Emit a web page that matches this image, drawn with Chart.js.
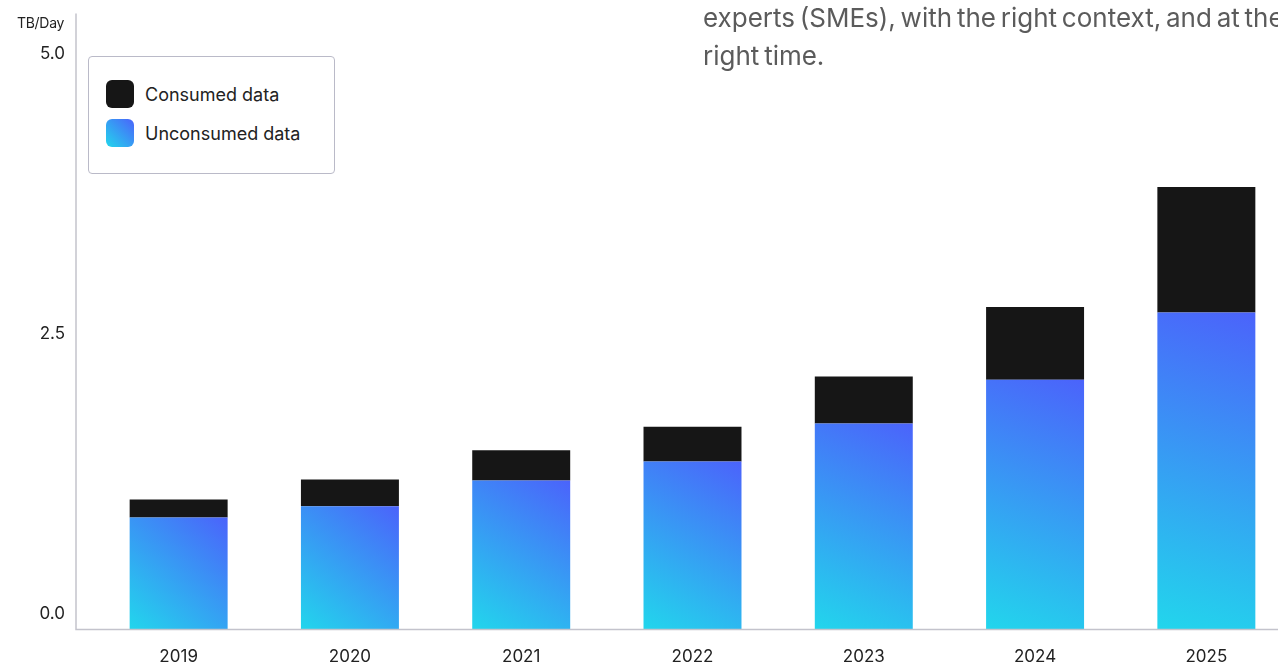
<!DOCTYPE html>
<html>
<head>
<meta charset="utf-8">
<script src="https://cdn.jsdelivr.net/npm/chart.js@4/dist/chart.umd.min.js"></script>
<style>
  html, body { margin: 0; padding: 0; background: #fff; overflow: hidden; }
  body { width: 1278px; height: 666px; position: relative; font-family: Inter, "Noto Sans", sans-serif; }
  #wrap { position: absolute; left: 0; top: 0; width: 1300px; height: 666px; }
  #unit { position: absolute; left: 17px; top: 14px; font-size: 14px; color: #222; letter-spacing: -0.3px; }
  #blurb { position: absolute; left: 703px; top: -1px; font-size: 26px; line-height: 38px; color: #5b5b5b; white-space: nowrap; letter-spacing: 0; word-spacing: -2.5px; }
  #legend { position: absolute; left: 88px; top: 56px; width: 245px; height: 116px; border: 1px solid #babac8; border-radius: 4px; background: #fff; }
  .item { position: absolute; left: 17px; display: flex; align-items: center; font-size: 18px; color: #222; }
  .swatch { width: 28px; height: 28px; border-radius: 6px; margin-right: 11px; }
</style>
</head>
<body>
<div id="wrap"><canvas id="chart"></canvas></div>
<div id="unit">TB/Day</div>
<div id="blurb">experts (SMEs), with the right context, and at the<br>right time.</div>
<div id="legend"></div>
<script>
const years = ["2019", "2020", "2021", "2022", "2023", "2024", "2025"];
const unconsumed = [1.0, 1.1, 1.33, 1.5, 1.84, 2.23, 2.83];
const consumed = [0.16, 0.24, 0.27, 0.31, 0.42, 0.65, 1.12];
const yTicks = [0, 2.5, 5];

const barPct = 0.572;
const gradFrom = "#22d6ec";
const gradTo = "#4b63fb";

// per-bar diagonal gradient, bottom-left cyan to top-right blue
function barGradient(ctx) {
  const chart = ctx.chart;
  if (!chart.chartArea || ctx.type !== "data") return "#3b9af0";
  const xs = chart.scales.x;
  const ys = chart.scales.y;
  const cx = xs.getPixelForValue(ctx.dataIndex);
  const half = (xs.getPixelForTick(1) - xs.getPixelForTick(0)) * barPct / 2;
  const bottom = ys.getPixelForValue(0);
  const top = ys.getPixelForValue(unconsumed[ctx.dataIndex]);
  const g = chart.ctx.createLinearGradient(cx - half, bottom, cx + half, top);
  g.addColorStop(0, gradFrom);
  g.addColorStop(1, gradTo);
  return g;
}

// axis lines sit a little left of the plot area
const axisLines = {
  id: "axisLines",
  afterDraw(chart) {
    const { ctx, chartArea } = chart;
    const x0 = chartArea.left - 17;
    ctx.save();
    ctx.strokeStyle = "#c3c3cc";
    ctx.lineWidth = 1.5;
    ctx.beginPath();
    ctx.moveTo(x0, chartArea.top);
    ctx.lineTo(x0, chartArea.bottom);
    ctx.lineTo(chart.width, chartArea.bottom);
    ctx.stroke();
    ctx.restore();
  },
};

const chart = new Chart(document.getElementById("chart"), {
  type: "bar",
  data: {
    labels: years,
    datasets: [
      {
        label: "Unconsumed data",
        data: unconsumed,
        backgroundColor: barGradient,
        barPercentage: barPct,
        categoryPercentage: 1,
      },
      {
        label: "Consumed data",
        data: consumed,
        backgroundColor: "#161616",
        barPercentage: barPct,
        categoryPercentage: 1,
      },
    ],
  },
  options: {
    responsive: true,
    maintainAspectRatio: false,
    animation: false,
    layout: { padding: { top: 13.5, right: 8, left: 0, bottom: 0 } },
    plugins: {
      legend: { display: false },
      tooltip: { enabled: false },
    },
    scales: {
      x: {
        stacked: true,
        grid: { display: false, drawTicks: false },
        border: { display: false },
        ticks: { color: "#222", font: { family: "Inter", size: 17 }, padding: 17 },
        afterFit: (scale) => {
          scale.height = 36.5;
          scale.paddingLeft = 0;
          scale.paddingRight = 0;
        },
      },
      y: {
        stacked: true,
        min: 0,
        max: 5.5,
        grid: { display: false, drawTicks: false },
        border: { display: false },
        afterBuildTicks: (scale) => { scale.ticks = yTicks.map((v) => ({ value: v })); },
        ticks: {
          color: "#222",
          font: { family: "Inter", size: 17 },
          padding: 28,
          labelOffset: -15.5,
          callback: (v) => Number(v).toFixed(1),
        },
        afterFit: (scale) => {
          scale.width = 93;
          scale.paddingTop = 0;
          scale.paddingBottom = 0;
        },
      },
    },
  },
  plugins: [axisLines],
});

// html legend, consumed first like the original
const legendEl = document.getElementById("legend");
const order = [1, 0];
order.forEach((di, i) => {
  const ds = chart.data.datasets[di];
  const item = document.createElement("div");
  item.className = "item";
  item.style.top = (23 + i * 39) + "px";
  const sw = document.createElement("div");
  sw.className = "swatch";
  sw.style.background = di === 0
    ? "linear-gradient(45deg, " + gradFrom + ", " + gradTo + ")"
    : ds.backgroundColor;
  const txt = document.createElement("span");
  txt.textContent = ds.label;
  item.appendChild(sw);
  item.appendChild(txt);
  legendEl.appendChild(item);
});
</script>
</body>
</html>
